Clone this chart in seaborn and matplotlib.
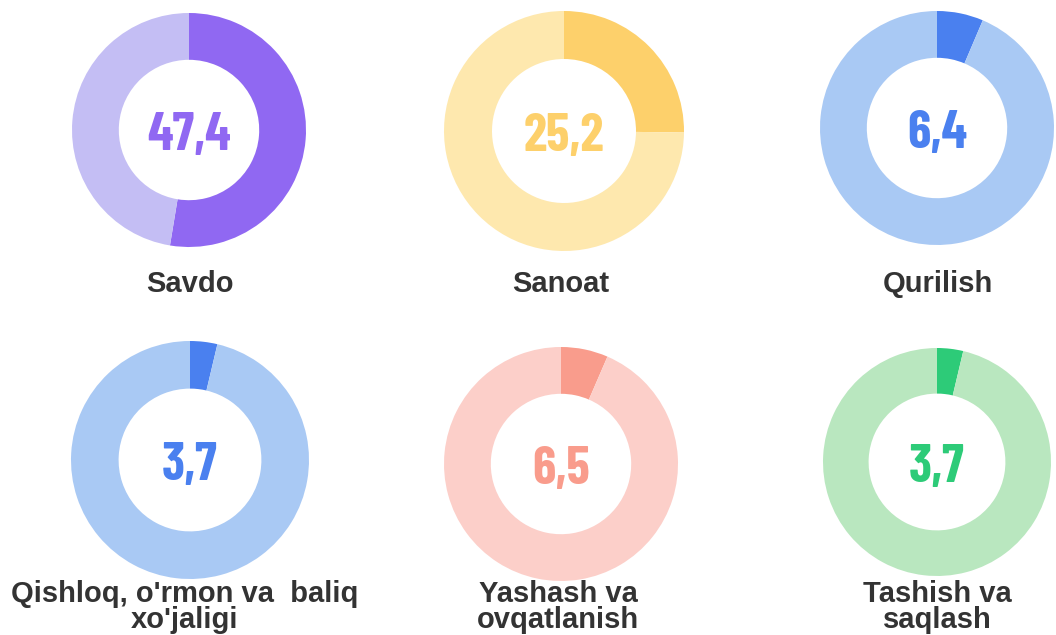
import matplotlib
matplotlib.use("Agg")
import matplotlib.pyplot as plt
from matplotlib import font_manager as fm
import seaborn as sns

# data
categories = ["Savdo", "Sanoat", "Qurilish",
              "Qishloq, o'rmon va  baliq\nxo'jaligi", "Yashash va\novqatlanish", "Tashish va\nsaqlash"]
value_labels = ["47,4", "25,2", "6,4", "3,7", "6,5", "3,7"]
# share of the dark slice as drawn on each ring (percent)
dark_share = [52.6, 25.2, 6.4, 3.7, 6.5, 3.7]
dark_colors = ["#9068F2", "#FDD06B", "#4A80EF", "#4A80EF", "#F99C8C", "#2DCB78"]
light_colors = ["#C4BEF4", "#FEE8AE", "#A9C9F4", "#A9C9F4", "#FCCFC9", "#B9E7BF"]

# ring placement in pixels (centre x, centre y from top, radius)
rings = [(189, 130, 117), (564, 131, 120), (937, 128, 117),
         (190, 460, 119), (561, 464, 117), (937, 462, 114)]
label_pos = [(190, 284), (561, 284), (938, 284),
             (185, 607), (558, 607), (937, 607)]

W, H = 1056, 635
sns.set_style("white")
plt.rcParams['font.family'] = ['Liberation Sans', 'DejaVu Sans']

installed = {f.name for f in fm.fontManager.ttflist}
num_font = next((n for n in ["Barlow Condensed", "Asap Condensed", "Oswald"]
                 if n in installed), "DejaVu Sans")

fig = plt.figure(figsize=(W / 100, H / 100), dpi=100)
fig.patch.set_facecolor("white")

for i, (cx, cy, r) in enumerate(rings):
    ax = fig.add_axes([(cx - r) / W, (H - cy - r) / H, 2 * r / W, 2 * r / H])
    share = dark_share[i]
    ax.pie([share, 100 - share], colors=[dark_colors[i], light_colors[i]],
           startangle=90, counterclock=False, radius=1,
           wedgeprops=dict(width=0.4, edgecolor="none"))
    ax.set_xlim(-1, 1)
    ax.set_ylim(-1, 1)
    ax.set_aspect("equal")
    ax.axis("off")
    ax.text(0, -0.01, value_labels[i], ha="center", va="center_baseline",
            fontsize=38, fontweight="bold", color=dark_colors[i],
            family=[num_font, "DejaVu Sans"])

for i, (lx, ly) in enumerate(label_pos):
    fig.text(lx / W, 1 - ly / H, categories[i], ha="center", va="center",
             fontsize=21, fontweight="bold", color="#333333", linespacing=0.95)

fig.savefig("out.png", dpi=100, facecolor="white")
